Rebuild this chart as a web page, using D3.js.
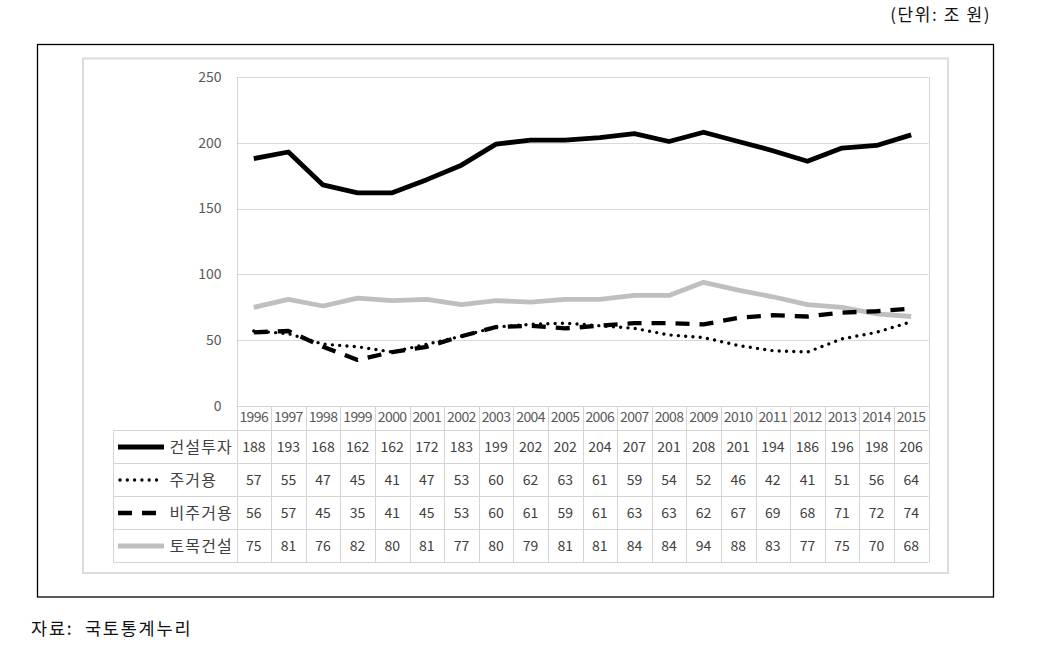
<!DOCTYPE html>
<html><head><meta charset="utf-8">
<script src="https://cdn.jsdelivr.net/npm/d3@7/dist/d3.min.js"></script>
<style>
body{margin:0;background:#fff;}
svg{display:block;font-family:"Noto Sans CJK KR","Noto Sans",sans-serif;}
</style></head>
<body>
<svg id="c" width="1042" height="658"></svg>
<script>
const years = ["1996","1997","1998","1999","2000","2001","2002","2003","2004","2005","2006","2007","2008","2009","2010","2011","2012","2013","2014","2015"];
const seriesNames = ["건설투자","주거용","비주거용","토목건설"];
const construction = [188,193,168,162,162,172,183,199,202,202,204,207,201,208,201,194,186,196,198,206];
const residential = [57,55,47,45,41,47,53,60,62,63,61,59,54,52,46,42,41,51,56,64];
const nonResidential = [56,57,45,35,41,45,53,60,61,59,61,63,63,62,67,69,68,71,72,74];
const civil = [75,81,76,82,80,81,77,80,79,81,81,84,84,94,88,83,77,75,70,68];
const yTicks = [0,50,100,150,200,250];
const unitLabel = "(단위: 조 원)";
const sourceLabel = "자료:  국토통계누리";

const svg = d3.select("#c");
const series = [
  {name: seriesNames[0], values: construction, color:"#000", width:4.8, dash:null, cap:"butt"},
  {name: seriesNames[1], values: residential, color:"#000", width:3.4, dash:"0,7.3", cap:"round"},
  {name: seriesNames[2], values: nonResidential, color:"#000", width:4.3, dash:"14,10", cap:"butt"},
  {name: seriesNames[3], values: civil, color:"#bfbfbf", width:4.8, dash:null, cap:"butt"}
];

// outer frames
svg.append("rect").attr("x",37.5).attr("y",44.5).attr("width",956).attr("height",552.5)
  .attr("fill","none").attr("stroke","#000").attr("stroke-width",1.3);
svg.append("rect").attr("x",83).attr("y",58.5).attr("width",865).attr("height",514.5)
  .attr("fill","none").attr("stroke","#dcdcdc").attr("stroke-width",2);

// texts
svg.append("text").attr("x",991).attr("y",21).attr("text-anchor","end")
  .attr("font-size",17).attr("letter-spacing",1.6).attr("fill","#111").text(unitLabel);
svg.append("text").attr("x",31).attr("y",635)
  .attr("font-size",17.5).attr("letter-spacing",1.8).attr("fill","#111").style("white-space","pre").text(sourceLabel);

const pLeft = 236.5, pRight = 928.5, pTop = 77, pBottom = 406;
const x = d3.scaleBand().domain(years).range([pLeft,pRight]);
const y = d3.scaleLinear().domain([0,250]).range([pBottom,pTop]);

// gridlines
const grid = svg.append("g");
grid.selectAll("line").data(yTicks).join("line")
  .attr("x1",pLeft).attr("x2",pRight)
  .attr("y1",d=>Math.round(y(d))+0.5).attr("y2",d=>Math.round(y(d))+0.5)
  .attr("stroke","#d9d9d9").attr("stroke-width",1);

// y axis
const yAxis = d3.axisLeft(y).tickValues(yTicks).tickSize(0).tickPadding(0);
const ya = svg.append("g").attr("transform",`translate(${pLeft-15},0)`).call(yAxis);
ya.select(".domain").remove();
ya.selectAll("text").attr("font-size",14).attr("fill","#595959")
  .attr("font-family","\"Noto Sans CJK KR\",sans-serif").attr("dy","0.3em");

// table geometry
const rowTop = 406.5;
const rowLines = [406.5, 430.5, 463.5, 496.5, 529.5, 562.5];
const legendLeft = 113.5;
const tbl = svg.append("g").attr("stroke","#d4d4d4").attr("stroke-width",1);
rowLines.forEach((ry,i)=>{
  tbl.append("line").attr("x1", i===0? pLeft : legendLeft).attr("x2",pRight).attr("y1",ry).attr("y2",ry);
});
const bounds = years.map(yr=>x(yr)).concat([pRight]);
bounds.forEach((bx,i)=>{
  const xx = Math.round(bx)+0.5;
  tbl.append("line").attr("x1",xx).attr("x2",xx)
    .attr("y1", (i===0||i===bounds.length-1)? pTop : rowTop).attr("y2",562.5);
});
tbl.append("line").attr("x1",legendLeft).attr("x2",legendLeft).attr("y1",430.5).attr("y2",562.5);

// year labels
svg.append("g").selectAll("text").data(years).join("text")
  .attr("x",d=>x(d)+x.bandwidth()/2).attr("y",421.5)
  .attr("text-anchor","middle").attr("font-size",14).attr("letter-spacing",-0.6).attr("fill","#595959")
  .text(d=>d);

// value rows
const rowCenters = [447, 480, 513, 546];
series.forEach((s,i)=>{
  const g = svg.append("g");
  g.selectAll("text").data(s.values).join("text")
    .attr("x",(d,j)=>x(years[j])+x.bandwidth()/2).attr("y",rowCenters[i]+5)
    .attr("text-anchor","middle").attr("font-size",14).attr("fill","#404040")
    .text(d=>d);
  const ly = rowCenters[i];
  const x2 = i===1 ? 160 : 164;
  g.append("line").attr("x1",i===1?120:118).attr("x2",x2).attr("y1",ly).attr("y2",ly)
    .attr("stroke",s.color).attr("stroke-width",s.width)
    .attr("stroke-dasharray",s.dash).attr("stroke-linecap",s.cap);
  g.append("text").attr("x",169.5).attr("y",ly+5.5).attr("font-size",16).attr("letter-spacing",1.1)
    .attr("fill","#404040").text(s.name);
});

// lines
const line = d3.line().x((d,j)=>x(years[j])+x.bandwidth()/2).y(d=>y(d));
const drawOrder = [3,0,1,2];
drawOrder.forEach(i=>{
  const s = series[i];
  svg.append("path").datum(s.values).attr("d",line)
    .attr("fill","none").attr("stroke",s.color).attr("stroke-width",s.width)
    .attr("stroke-dasharray",s.dash).attr("stroke-linecap",s.cap)
    .attr("stroke-linejoin","round");
});
</script>
</body></html>
